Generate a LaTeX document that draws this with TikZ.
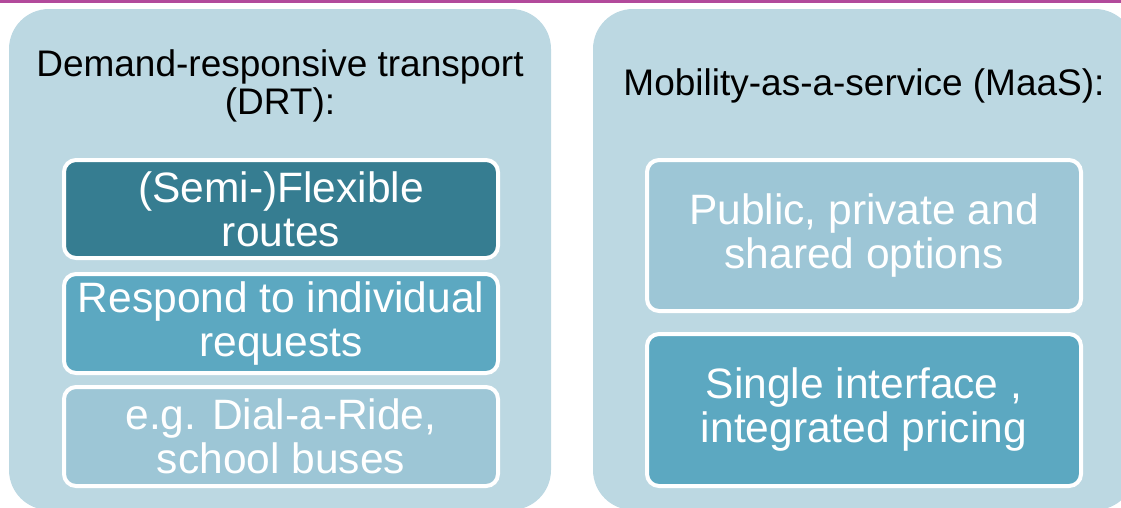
\documentclass[tikz,border=0pt]{standalone}
\usepackage{fontspec}
\setmainfont{Liberation Sans}
\definecolor{barpurple}{RGB}{178,74,155}
\definecolor{panelblue}{RGB}{188,216,226}
\definecolor{tealdark}{RGB}{54,125,145}
\definecolor{tealmid}{RGB}{92,168,193}
\definecolor{teallight}{RGB}{157,198,214}

\begin{document}
\begin{tikzpicture}[x=1pt,y=-1pt,
    panel/.style={fill=panelblue,rounded corners=40pt,minimum width=542pt,
      minimum height=501pt,inner sep=0pt},
    title/.style={font=\fontsize{37}{38.5}\selectfont,align=center,inner sep=0pt},
    item/.style={draw=white,line width=4pt,rounded corners=12pt,text=white,
      minimum width=434pt,inner sep=0pt,align=center,
      font=\fontsize{42.5}{44}\selectfont}]
      \useasboundingbox (0,0) rectangle (1121,507);
      \clip (0,0) rectangle (1121,507);
      \fill[barpurple] (0,0) rectangle (1121,3);
      \node[panel] (drt) at (280,259.5) {}; \node[panel] (maas) at
      (864,259.5) {};
      \node[title] (drttitle) at (280,86) {Demand-responsive transport\\(DRT):};
      \node[title,anchor=base] (maastitle) at (864,95)
      {Mobility-as-a-service (MaaS):};
      \node[item,fill=tealdark,minimum height=98pt] (flex) at (281,209)
      {(Semi-)Flexible\\routes};
      \node[item,fill=tealmid,minimum height=99pt] (requests) at
      (281,323.5) {Respond to individual\\requests};
      \node[item,fill=teallight,minimum height=99pt] (examples) at
      (281,436.5) {e.g. Dial-a-Ride,\\school buses};
      \node[item,fill=teallight,minimum height=151pt] (options) at
      (864,235.5) {Public, private and\\shared options};
      \node[item,fill=tealmid,minimum height=152pt] (pricing) at
      (864,410) {Single interface ,\\integrated pricing};
    \end{tikzpicture}
\end{document}
